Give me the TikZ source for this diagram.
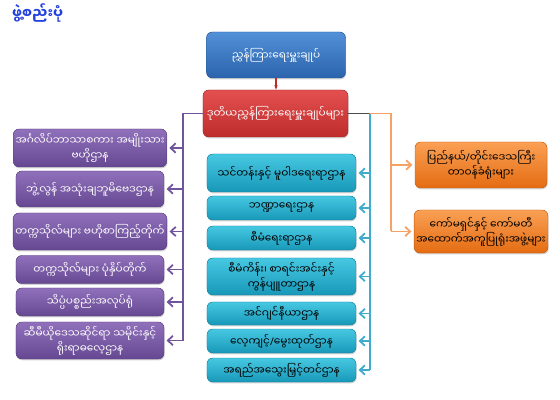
\documentclass[tikz,border=0pt]{standalone}
\usepackage{fontspec}
\usepackage{tikz}
\usetikzlibrary{arrows.meta, positioning, shadows}
\newfontfamily\mmfont[Script=Myanmar]{Noto Sans Myanmar UI}
\newfontfamily\latinfont{Noto Sans}
\newcommand{\slsh}{{\latinfont /}}
\definecolor{cBlueT}{RGB}{82,144,216}
\definecolor{cBlueB}{RGB}{42,100,172}
\definecolor{cRedT}{RGB}{228,80,80}
\definecolor{cRedB}{RGB}{190,44,44}
\definecolor{cPurT}{RGB}{144,112,186}
\definecolor{cPurB}{RGB}{102,72,146}
\definecolor{cTealT}{RGB}{70,200,226}
\definecolor{cTealB}{RGB}{24,152,184}
\definecolor{cOrT}{RGB}{250,160,84}
\definecolor{cOrB}{RGB}{228,108,18}
\definecolor{cPurLine}{RGB}{112,84,158}
\definecolor{cTealLine}{RGB}{62,172,202}
\definecolor{cOrLine}{RGB}{246,162,102}
\definecolor{cTitle}{RGB}{34,64,222}
\tikzset{
	box/.style      ={rectangle, rounded corners=5pt, align=center, inner sep=2pt, drop shadow={opacity=0.35, shadow xshift=0.6pt, shadow yshift=-1.2pt}},
	dgbox/.style    ={box, top color=cBlueT, bottom color=cBlueB, draw=cBlueB!85!black, text=white, minimum width=4.17cm, minimum height=1.38cm},
	ddgbox/.style   ={box, top color=cRedT, bottom color=cRedB, draw=cRedB!85!black, text=white, minimum width=4.35cm, minimum height=1.41cm},
	pbox/.style     ={box, top color=cPurT, bottom color=cPurB, draw=cPurB!85!black, text=white, minimum width=4.44cm},
	tbox/.style     ={box, top color=cTealT, bottom color=cTealB, draw=cTealB!85!black, text=black, minimum width=4.47cm},
	obox/.style     ={box, top color=cOrT, bottom color=cOrB, draw=cOrB!85!black, text=black, minimum width=3.96cm},
	heading/.style  ={text=cTitle, font=\mmfont\large\bfseries},
	% connectors
	downlink/.style ={cRedB, line width=1pt, -{Stealth[length=1.4mm]}},
	pline/.style    ={cPurLine, line width=1.5pt},
	plink/.style    ={pline, -{Straight Barb[length=1.5mm, width=2.8mm]}, shorten >=2pt},
	tline/.style    ={cTealLine, line width=1.5pt},
	tlink/.style    ={tline, -{Straight Barb[length=1.5mm, width=2.8mm]}, shorten >=2pt},
	oline/.style    ={cOrLine, line width=1.5pt},
	olink/.style    ={oline, -{Straight Barb[length=1.5mm, width=2.8mm]}, shorten >=2pt},
}

\begin{document}
\begin{tikzpicture}[x=0.03cm, y=-0.03cm, font=\mmfont\small]
	\useasboundingbox (0,0) rectangle (560,400);
	\node[heading, anchor=west] (ttl) at (8,13) {ဖွဲ့စည်းပုံ};
	\node[dgbox] (dg) at (276,55) {ညွှန်ကြားရေးမှူးချုပ်};
	\node[ddgbox] (ddg) at (275.5,113.5) {ဒုတိယညွှန်ကြားရေးမှူးချုပ်များ};
	% left column
	\node[pbox, minimum height=1.14cm] (p1) at (90,148) {အင်္ဂလိပ်ဘာသာစကား အမျိုးသား\\ဗဟိုဌာန};
	\node[pbox, minimum height=1.08cm] (p2) at (90,189) {ဘွဲ့လွန် အသုံးချဘူမိဗေဒဌာန};
	\node[pbox, minimum height=1.11cm] (p3) at (90,231.5) {တက္ကသိုလ်များ ဗဟိုစာကြည့်တိုက်};
	\node[pbox, minimum height=0.84cm] (p4) at (90,269.5) {တက္ကသိုလ်များ ပုံနှိပ်တိုက်};
	\node[pbox, minimum height=0.84cm] (p5) at (90,302) {သိပ္ပံပစ္စည်းအလုပ်ရုံ};
	\node[pbox, minimum height=1.11cm] (p6) at (90,340.5) {ဆီမီယိုဒေသဆိုင်ရာ သမိုင်းနှင့်\\ရိုးရာဓလေ့ဌာန};
	% middle column
	\node[tbox, minimum height=1.14cm] (t1) at (281.5,173) {သင်တန်းနှင့် မူဝါဒရေးရာဌာန};
	\node[tbox, minimum height=0.72cm] (t2) at (281.5,208) {ဘဏ္ဍာရေးဌာန};
	\node[tbox, minimum height=0.72cm] (t3) at (281.5,238) {စီမံရေးရာဌာန};
	\node[tbox, minimum height=1.11cm] (t4) at (281.5,276.5) {စီမံကိန်း၊ စာရင်းအင်းနှင့်\\ကွန်ပျူတာဌာန};
	\node[tbox, minimum height=0.69cm] (t5) at (281.5,313.5) {အင်ဂျင်နီယာဌာန};
	\node[tbox, minimum height=0.72cm] (t6) at (281.5,341) {လေ့ကျင့်\slsh မွေးထုတ်ဌာန};
	\node[tbox, minimum height=0.72cm] (t7) at (281.5,370) {အရည်အသွေးမြှင့်တင်ဌာန};
	% right column
	\node[obox, minimum height=1.38cm] (o1) at (481,165) {ပြည်နယ်\slsh တိုင်းဒေသကြီး\\တာဝန်ခံရုံးများ};
	\node[obox, minimum height=1.29cm] (o2) at (481,231.5) {ကော်မရှင်နှင့် ကော်မတီ\\အထောက်အကူပြုရုံးအဖွဲ့များ};
	% junctions
	\path (ddg.west) ++(-20,0) coordinate (pj);
	\path (ddg.east) ++(22,0) coordinate (tj);
	\path (ddg.east) ++(43,0) coordinate (oj);
	% connectors
	\draw[downlink] (dg.south) -- (dg.south |- ddg.north);
	\draw[pline] (ddg.west) -- (pj) -- (pj |- p6.east);
	\foreach \n in {p1,p2,p3,p4,p5,p6}
		\draw[plink] (pj |- \n.east) -- (\n.east);
	\draw[black!70, line width=1.5pt] (ddg.east) -- (tj);
	\draw[tline] (tj) -- (tj |- t7.east);
	\foreach \n in {t1,t2,t3,t4,t5,t6,t7}
		\draw[tlink] (tj |- \n.east) -- (\n.east);
	\draw[oline] (tj) -- (oj) -- (oj |- o2.west);
	\foreach \n in {o1,o2}
		\draw[olink] (oj |- \n.west) -- (\n.west);
\end{tikzpicture}
\end{document}
